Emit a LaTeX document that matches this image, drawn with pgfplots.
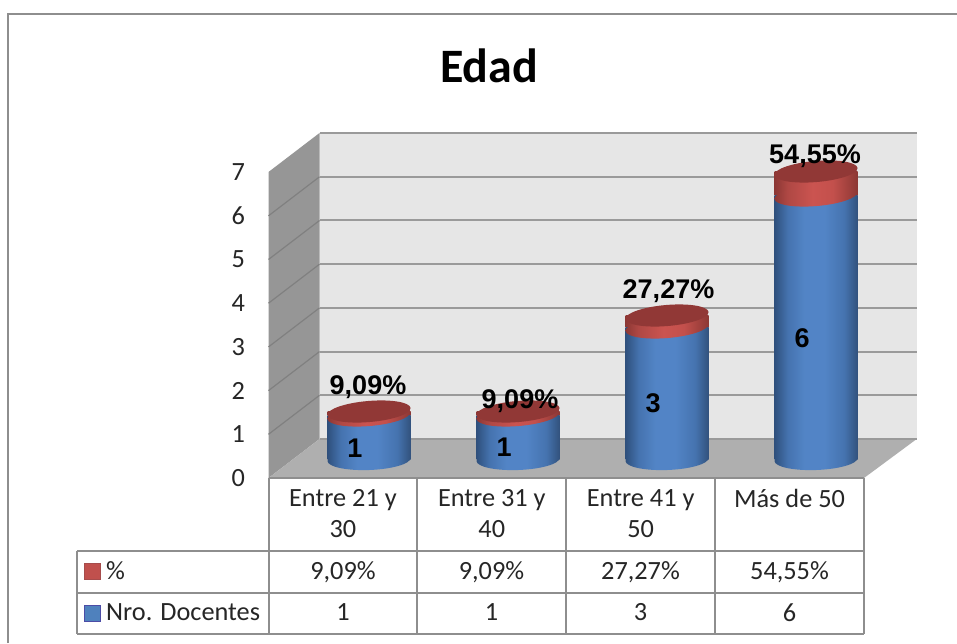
\documentclass[border=0pt]{standalone}
\usepackage{pgfplots}
\pgfplotsset{compat=1.18}
\usepackage{fontspec}
\setmainfont{Carlito}
\newfontfamily\arb{Liberation Sans}[BoldFont={Liberation Sans Bold}]
\definecolor{gridc}{HTML}{9A9A9A}
\definecolor{linec}{HTML}{8E8E8E}
\definecolor{wallb}{HTML}{E6E6E6}
\definecolor{walll}{HTML}{969696}
\definecolor{floorc}{HTML}{AFAFAF}
\definecolor{topred}{HTML}{913836}
\pgfdeclarehorizontalshading{cylblue}{100bp}{
  rgb(0bp)=(.184,.314,.49);
  rgb(25bp)=(.184,.314,.49);
  rgb(33bp)=(.271,.451,.686);
  rgb(43bp)=(.322,.518,.776);
  rgb(55bp)=(.322,.518,.776);
  rgb(67bp)=(.271,.451,.686);
  rgb(75bp)=(.196,.322,.49);
  rgb(100bp)=(.196,.322,.49)}
\pgfdeclarehorizontalshading{cylred}{100bp}{
  rgb(0bp)=(.549,.216,.204);
  rgb(25bp)=(.549,.216,.204);
  rgb(33bp)=(.686,.282,.267);
  rgb(48bp)=(.796,.329,.314);
  rgb(60bp)=(.765,.314,.298);
  rgb(75bp)=(.549,.216,.204);
  rgb(100bp)=(.549,.216,.204)}
% tilted ellipses of the cylinders
\pgfdeclareplotmark{cylbase}{%
  \pgfpathellipse{\pgfpointorigin}{\pgfpoint{41.5pt}{1.5pt}}{\pgfpoint{-0.3pt}{10.5pt}}%
  \pgfshadepath{cylblue}{0}\pgfusepath{discard}}
\pgfdeclareplotmark{cylrim}{%
  \pgfpathellipse{\pgfpointorigin}{\pgfpoint{41.5pt}{3.5pt}}{\pgfpoint{-0.9pt}{10.5pt}}%
  \pgfshadepath{cylred}{0}\pgfusepath{discard}}
\pgfdeclareplotmark{cyltop}{%
  \pgfsetfillcolor{topred}%
  \pgfpathellipse{\pgfpointorigin}{\pgfpoint{41.5pt}{3.5pt}}{\pgfpoint{-0.9pt}{10.5pt}}%
  \pgfusepathqfill}
\newcommand{\lab}{\arb\bfseries\fontsize{27}{30}\selectfont}
\newcommand{\tbl}{\fontsize{26.3}{31}\selectfont}
\pgfplotsset{cylaxis/.style={
  at={(294.5pt,183.5pt)},anchor=south west,scale only axis,width=596pt,height=308pt,
  xmin=-0.5,xmax=3.5,ymin=0,ymax=7,hide axis,clip=false},
  cylbars/.style={cylaxis,ybar stacked,bar width=83pt}}
\begin{document}
\begin{tikzpicture}
\useasboundingbox (0pt,0pt) rectangle (957pt,643pt);
\begin{scope}[x=1pt,y=-1pt,shift={(0pt,643pt)}]
\fill[white] (0,0) rectangle (957,643);
% outer frame
\draw[linec,line width=2pt] (8,643) -- (8,14) -- (957,14);
% title
\node[font=\bfseries\fontsize{48}{52}\selectfont,text=black] at (489,66) {Edad};
% left wall and floor
\fill[walll] (268.5,172) -- (319.5,133) -- (319.5,439) -- (268.5,478) -- cycle;
\fill[floorc] (268.5,478) -- (319.5,439) -- (916.7,439) -- (864,478) -- cycle;
\foreach \yy in {1,...,6}{
  \draw[line width=1.2pt,color=linec!90!black] (268.5,478-\yy*43.7) -- (319.5,439-\yy*43.7);
}
\end{scope}
% back wall with its grid
\begin{axis}[
  at={(319.5pt,204pt)},anchor=south west,scale only axis,width=597.2pt,height=306pt,
  xmin=-0.5,xmax=3.5,ymin=0,ymax=7,
  xtick=\empty,ytick={0,1,2,3,4,5,6,7},yticklabels={},
  major tick length=0pt,axis line style={draw=none},
  ymajorgrids,grid style={draw=gridc,line width=2pt},
  axis background/.style={fill=wallb},
  clip=false]
\end{axis}
% front plane: axis labels
\begin{axis}[
  at={(268.5pt,165pt)},anchor=south west,scale only axis,width=595.5pt,height=306pt,
  xmin=-0.5,xmax=3.5,ymin=0,ymax=7,
  xtick={0,1,2,3},
  xticklabels={{Entre 21 y\\30},{Entre 31 y\\40},{Entre 41 y\\50},{Más de 50}},
  xticklabel style={align=center,font=\tbl,text=black!85,yshift=-8pt,anchor=north},
  ytick={0,1,2,3,4,5,6,7},
  yticklabel style={font=\fontsize{26.3}{28}\selectfont,text=black!85,xshift=-20pt,/pgf/number format/assume math mode=true},
  major tick length=0pt,axis line style={draw=none},clip=false]
\end{axis}
% the cylinders
\begin{axis}[cylaxis]
\addplot[only marks,mark=cylbase] coordinates {(0,0) (1,0) (2,0) (3,0)};
\end{axis}
\begin{axis}[cylbars]
\addplot[draw=none,shading=cylblue] coordinates {(0,1)};
\addplot[draw=none,shading=cylred] coordinates {(0,0.0909)};
\end{axis}
\begin{axis}[cylbars]
\addplot[draw=none,shading=cylblue] coordinates {(1,1)};
\addplot[draw=none,shading=cylred] coordinates {(1,0.0909)};
\end{axis}
\begin{axis}[cylbars]
\addplot[draw=none,shading=cylblue] coordinates {(2,3)};
\addplot[draw=none,shading=cylred] coordinates {(2,0.2727)};
\end{axis}
\begin{axis}[cylbars]
\addplot[draw=none,shading=cylblue] coordinates {(3,6)};
\addplot[draw=none,shading=cylred] coordinates {(3,0.5455)};
\end{axis}
\begin{axis}[cylaxis,stack plots=y,reverse stacked plots=false]
\addplot[only marks,mark=cylrim] coordinates {(0,1) (1,1) (2,3) (3,6)};
\addplot[only marks,mark=cyltop] coordinates {(0,0.0909) (1,0.0909) (2,0.2727) (3,0.5455)};
\end{axis}
\begin{scope}[x=1pt,y=-1pt,shift={(0pt,643pt)}]
% data labels
\node[font=\lab,text=black] at (368,387.5) {9,09\%};
\node[font=\lab,text=black] at (520,401.5) {9,09\%};
\node[font=\lab,text=black] at (668.5,291.5) {27,27\%};
\node[font=\lab,text=black] at (815,156.5) {54,55\%};
\node[font=\lab,text=black] at (355,448) {1};
\node[font=\lab,text=black] at (504,447) {1};
\node[font=\lab,text=black] at (653,403) {3};
\node[font=\lab,text=black] at (802,338) {6};
% data table
\draw[linec,line width=2pt] (268.5,478) -- (864,478);
\draw[linec,line width=2pt] (77,550.5) -- (864,550.5) (77,592.5) -- (864,592.5) (77,634) -- (864,634);
\draw[linec,line width=2pt] (77,550.5) -- (77,634);
\foreach \xx in {268.5,417,566,715,864}{\draw[linec,line width=2pt] (\xx,478) -- (\xx,634);}
\draw[draw=red!50!black!70,fill={rgb,255:red,192;green,80;blue,77},line width=1pt] (84.5,563) rectangle (100,579);
\draw[draw=blue!50!black!70,fill={rgb,255:red,79;green,129;blue,189},line width=1pt] (84.5,605) rectangle (100,621);
\node[font=\tbl,text=black!85,anchor=west,inner sep=0pt] at (106,571) {\%};
\node[font=\tbl,text=black!85,anchor=west,inner sep=0pt] at (106,612.5) {Nro. Docentes};
\foreach \xx/\tt in {343/{9,09\%},491.5/{9,09\%},640.5/{27,27\%},789.5/{54,55\%}}{
  \node[font=\tbl,text=black!85] at (\xx,572) {\tt};}
\foreach \xx/\tt in {343/1,491.5/1,640.5/3,789.5/6}{
  \node[font=\tbl,text=black!85] at (\xx,612.5) {\tt};}
\end{scope}
\end{tikzpicture}
\end{document}
